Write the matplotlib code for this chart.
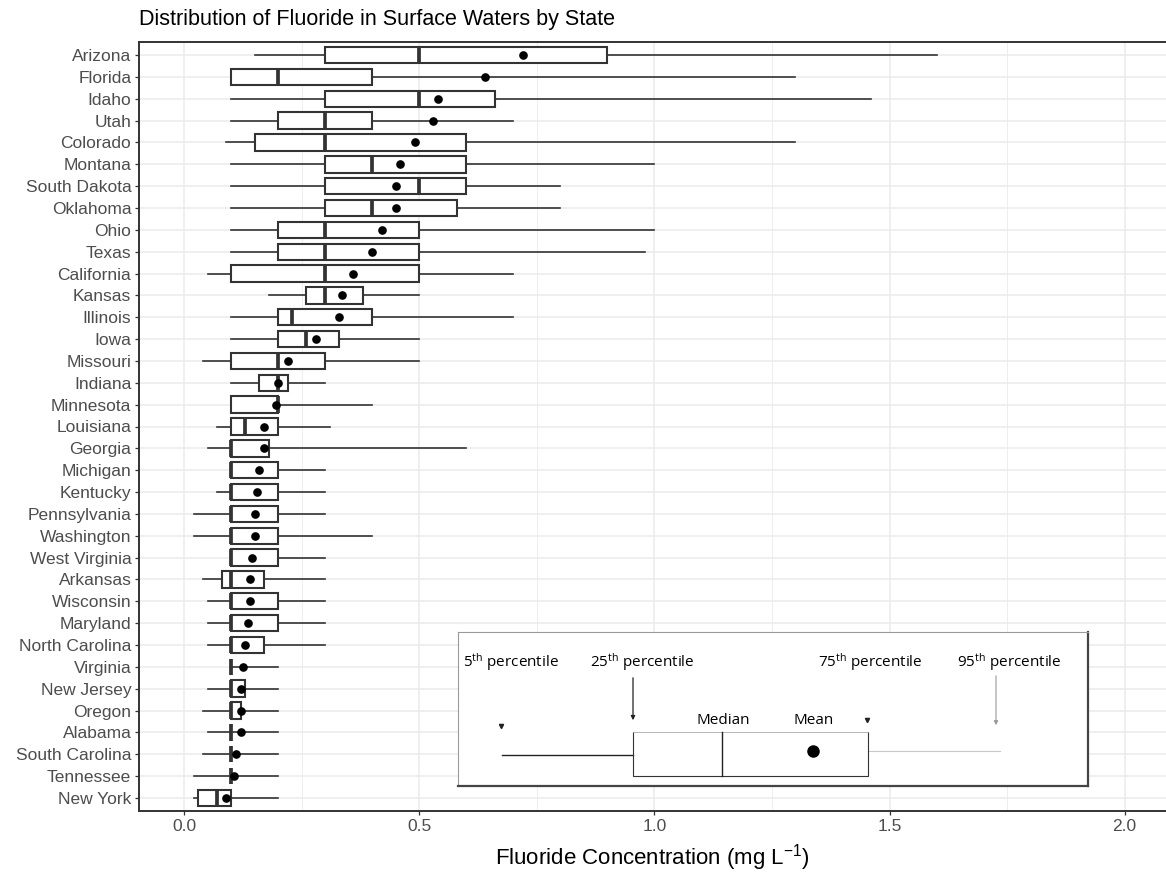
import numpy as np
import matplotlib.pyplot as plt
from matplotlib.ticker import MultipleLocator

plt.rcParams['font.family'] = ['Liberation Sans', 'DejaVu Sans']
plt.rcParams['mathtext.default'] = 'regular'

# fluoride summary statistics per state (mg/L)
states = ["Arizona", "Florida", "Idaho", "Utah", "Colorado", "Montana",
          "South Dakota", "Oklahoma", "Ohio", "Texas", "California", "Kansas",
          "Illinois", "Iowa", "Missouri", "Indiana", "Minnesota", "Louisiana",
          "Georgia", "Michigan", "Kentucky", "Pennsylvania", "Washington",
          "West Virginia", "Arkansas", "Wisconsin", "Maryland", "North Carolina",
          "Virginia", "New Jersey", "Oregon", "Alabama", "South Carolina",
          "Tennessee", "New York"]
p05 = [0.15, 0.10, 0.10, 0.10, 0.09, 0.10, 0.10, 0.10, 0.10, 0.10, 0.05, 0.18,
       0.10, 0.10, 0.04, 0.10, 0.10, 0.07, 0.05, 0.10, 0.07, 0.02, 0.02, 0.10,
       0.04, 0.05, 0.05, 0.05, 0.10, 0.05, 0.04, 0.05, 0.04, 0.02, 0.02]
p25 = [0.30, 0.10, 0.30, 0.20, 0.15, 0.30, 0.30, 0.30, 0.20, 0.20, 0.10, 0.26,
       0.20, 0.20, 0.10, 0.16, 0.10, 0.10, 0.10, 0.10, 0.10, 0.10, 0.10, 0.10,
       0.08, 0.10, 0.10, 0.10, 0.10, 0.10, 0.10, 0.10, 0.10, 0.10, 0.03]
median = [0.50, 0.20, 0.50, 0.30, 0.30, 0.40, 0.50, 0.40, 0.30, 0.30, 0.30, 0.30,
          0.23, 0.26, 0.20, 0.20, 0.20, 0.13, 0.10, 0.10, 0.10, 0.10, 0.10, 0.10,
          0.10, 0.10, 0.10, 0.10, 0.10, 0.10, 0.10, 0.10, 0.10, 0.10, 0.07]
mean = [0.72, 0.64, 0.54, 0.53, 0.49, 0.46, 0.45, 0.45, 0.42, 0.40, 0.36, 0.335,
        0.33, 0.28, 0.22, 0.20, 0.195, 0.17, 0.17, 0.16, 0.155, 0.15, 0.15, 0.145,
        0.14, 0.14, 0.135, 0.13, 0.125, 0.12, 0.12, 0.12, 0.11, 0.105, 0.09]
p75 = [0.90, 0.40, 0.66, 0.40, 0.60, 0.60, 0.60, 0.58, 0.50, 0.50, 0.50, 0.38,
       0.40, 0.33, 0.30, 0.22, 0.20, 0.20, 0.18, 0.20, 0.20, 0.20, 0.20, 0.20,
       0.17, 0.20, 0.20, 0.17, 0.10, 0.13, 0.12, 0.10, 0.10, 0.10, 0.10]
p95 = [1.60, 1.30, 1.46, 0.70, 1.30, 1.00, 0.80, 0.80, 1.00, 0.98, 0.70, 0.50,
       0.70, 0.50, 0.50, 0.30, 0.40, 0.31, 0.60, 0.30, 0.30, 0.30, 0.40, 0.30,
       0.30, 0.30, 0.30, 0.30, 0.20, 0.20, 0.20, 0.20, 0.20, 0.20, 0.20]

stats = [dict(label=s, whislo=a, q1=b, med=c, mean=d, q3=e, whishi=f, fliers=[])
         for s, a, b, c, d, e, f in zip(states, p05, p25, median, mean, p75, p95)]

W, H = 1166, 873
fig = plt.figure(figsize=(W / 100, H / 100), dpi=100)
ax = fig.add_axes([139 / W, 1 - 811 / H, (W - 139) / W, (811 - 42) / H])

dark = '#333333'
n = len(states)
pos = np.arange(n, 0, -1)
ax.bxp(stats, positions=pos, widths=0.75, orientation='horizontal',
       showmeans=True, showcaps=False, showfliers=False, patch_artist=True,
       boxprops=dict(facecolor='white', edgecolor=dark, linewidth=1.5),
       whiskerprops=dict(color=dark, linewidth=1.2),
       medianprops=dict(color=dark, linewidth=2.7, solid_capstyle='butt'),
       meanprops=dict(marker='o', markerfacecolor='black',
                      markeredgecolor='black', markersize=5.2))

ax.set_xlim(-0.096, 2.088)
ax.set_ylim(0.4, n + 0.6)
ax.xaxis.set_minor_locator(MultipleLocator(0.25))
ax.set_xticks(np.arange(0, 2.01, 0.5))
ax.set_xticklabels(['0.0', '0.5', '1.0', '1.5', '2.0'])
ax.set_yticks(pos)
ax.set_yticklabels(states)

ax.set_axisbelow(True)
ax.grid(which='major', color='#EBEBEB', linewidth=1.1)
ax.grid(which='minor', axis='x', color='#EBEBEB', linewidth=0.6)
ax.tick_params(which='major', length=3, width=0.9, color=dark, pad=2.5,
               labelsize=12.5, labelcolor='#4D4D4D')
ax.tick_params(which='minor', length=0)
for side in ('top', 'left', 'bottom'):
    ax.spines[side].set_color(dark)
    ax.spines[side].set_linewidth(1.4)
ax.spines['right'].set_visible(False)

ax.set_xlabel('Fluoride Concentration (mg L$^{-1}$)', fontsize=16, labelpad=6)
fig.text(139 / W, 1 - 19 / H, 'Distribution of Fluoride in Surface Waters by State',
         fontsize=15.5, ha='left', va='center')

# key explaining the box-and-whisker elements
kx, ky, kw, kh = 458, 632, 630, 154
key = fig.add_axes([kx / W, 1 - (ky + kh) / H, kw / W, kh / H])
key.set_xlim(0, kw)
key.set_ylim(kh, 0)
key.set_xticks([])
key.set_yticks([])
key.set_facecolor('white')
for side in ('top', 'left'):
    key.spines[side].set_color('#9A9A9A')
    key.spines[side].set_linewidth(0.8)
for side in ('right', 'bottom'):
    key.spines[side].set_color('#444444')
    key.spines[side].set_linewidth(1.6)

kfont = dict(family=['Open Sans', 'DejaVu Sans'], fontsize=11, va='center')
key.text(5, 30, '5$^{th}$ percentile', ha='left', **kfont)
key.text(132, 30, '25$^{th}$ percentile', ha='left', **kfont)
key.text(360, 30, '75$^{th}$ percentile', ha='left', **kfont)
key.text(499, 30, '95$^{th}$ percentile', ha='left', **kfont)
key.text(265, 88, 'Median', ha='center', **kfont)
key.text(356, 88, 'Mean', ha='center', **kfont)

key.annotate('', xy=(175, 91), xytext=(175, 43),
             arrowprops=dict(arrowstyle='-|>', color='#222222', lw=0.9,
                             mutation_scale=6))
key.annotate('', xy=(538, 96), xytext=(538, 41),
             arrowprops=dict(arrowstyle='-|>', color='#9A9A9A', lw=0.8,
                             mutation_scale=6))
key.plot([43], [94], marker='v', color='#222222', markersize=3)
key.plot([409], [88], marker='v', color='#222222', markersize=3)

key.plot([44, 175], [123, 123], color='#222222', lw=1.0)
key.plot([410, 542], [119, 119], color='#C8C8C8', lw=0.8)
key.plot([175, 175, 410, 410], [100, 144, 144, 100], color='#333333', lw=0.8)
key.plot([175, 410], [100, 100], color='#AAAAAA', lw=0.6)
key.plot([264, 264], [100, 144], color='#222222', lw=1.0)
key.plot([355], [119], marker='o', color='black', markersize=8)

fig.savefig('out.png', dpi=100)
